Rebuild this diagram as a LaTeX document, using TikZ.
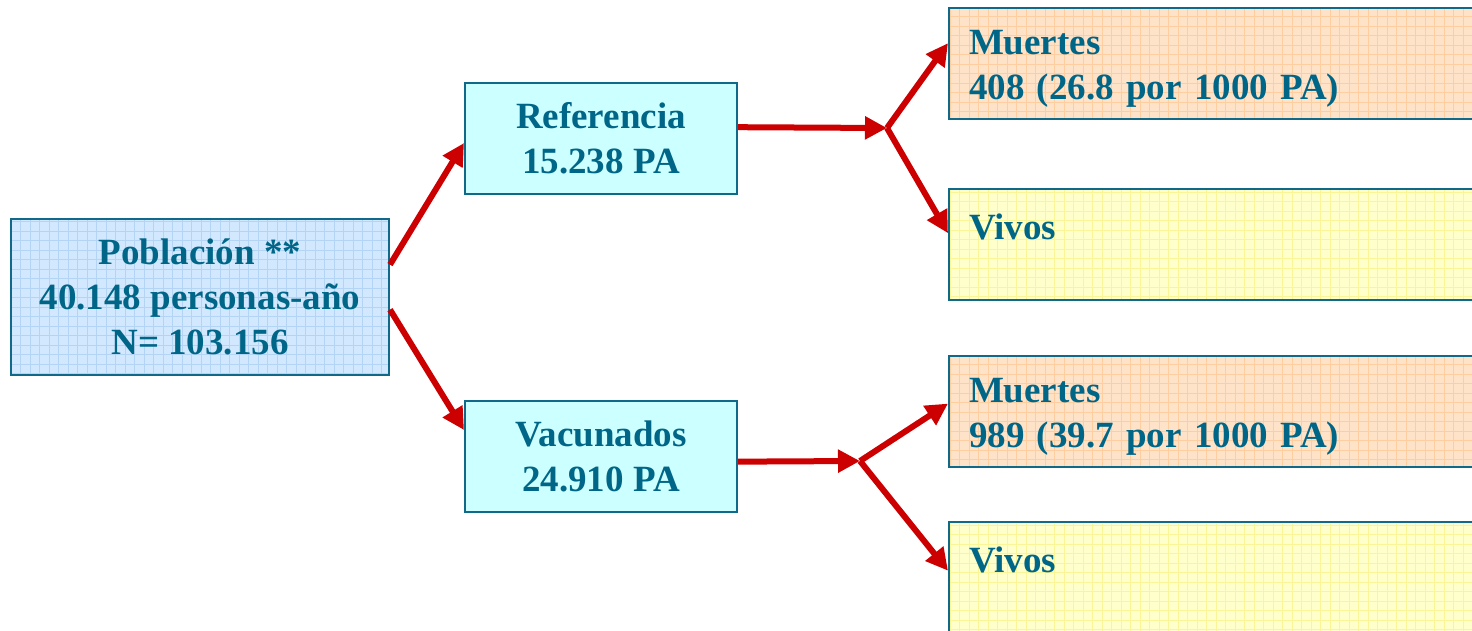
\documentclass[tikz,border=0pt]{standalone}
\usepackage{fontspec}
\setmainfont{Liberation Serif}
\usepackage{tikz}
\usetikzlibrary{calc,arrows.meta}
\definecolor{boxline}{RGB}{17,105,138}
\definecolor{boxtext}{RGB}{0,102,136}
\definecolor{popblue}{RGB}{210,232,255}
\definecolor{popgrid}{RGB}{180,212,245}
\definecolor{grpcyan}{RGB}{204,255,255}
\definecolor{deadpeach}{RGB}{255,227,200}
\definecolor{deadgrid}{RGB}{255,206,160}
\definecolor{aliveyellow}{RGB}{255,255,204}
\definecolor{alivegrid}{RGB}{250,245,150}
\definecolor{flowred}{RGB}{204,0,0}
\tikzset{
    gridfill/.style={
        path picture={
            \draw[#1, line width=0.3pt, step=4.75pt]
              (path picture bounding box.south west) grid (path picture bounding box.north east);
        }
    },
    basebox/.style={
        draw=boxline,
        line width=1pt,
        text=boxtext,
        font=\fontsize{18.5}{22.5}\selectfont\bfseries,
    },
    popbox/.style={
        basebox,
        fill=popblue,
        gridfill=popgrid,
        align=center,
        minimum width=189pt,
        minimum height=78pt,
    },
    groupbox/.style={
        basebox,
        fill=grpcyan,
        align=center,
        minimum width=136pt,
        minimum height=55.5pt,
    },
    outbox/.style={
        basebox,
        anchor=north west,
        align=left,
        inner xsep=10pt,
        text width=280pt,
        text height=17.5pt,
        minimum height=55.5pt,
    },
    deadbox/.style={outbox, fill=deadpeach, gridfill=deadgrid},
    alivebox/.style={outbox, fill=aliveyellow, gridfill=alivegrid},
    flow/.style={
        draw=flowred,
        line width=3pt,
        -{Triangle[length=11pt,width=11pt]},
    },
}
\begin{document}
\begin{tikzpicture}[x=0.5pt,y=-0.5pt]
    \useasboundingbox (0,0) rectangle (1472,631);
    \clip (0,0) rectangle (1472,631);

    % Population and the two groups
    \node[popbox] (pob) at (200,297) {Población **\\40.148 personas-año\\N= 103.156};
    \node[groupbox] (ref) at (601,138.5) {Referencia\\15.238 PA};
    \node[groupbox] (vac) at (601,456) {Vacunados\\24.910 PA};

    % Outcomes
    \node[deadbox] (deadref) at (948,7) {Muertes\\408 (26.8 por 1000 PA)};
    \node[alivebox] (aliveref) at (948,188) {Vivos\\\phantom{0}};
    \node[deadbox] (deadvac) at (948,355) {Muertes\\989 (39.7 por 1000 PA)};
    \node[alivebox] (alivevac) at (948,521) {Vivos\\\phantom{0}};

    % Forks
    \coordinate (forkref) at (887,128);
    \coordinate (forkvac) at (860,461);

    % Population to groups
    \draw[flow] ($(pob.north east)!0.295!(pob.south east)$) -- ($(ref.north west)!0.54!(ref.south west)$);
    \draw[flow] ($(pob.north east)!0.58!(pob.south east)$) -- ($(vac.north west)!0.27!(vac.south west)$);

    % Referencia branch
    \draw[flow] ($(ref.north east)!0.4!(ref.south east)$) -- (forkref);
    \draw[flow] (forkref) -- ($(deadref.north west)!0.32!(deadref.south west)$);
    \draw[flow] (forkref) -- ($(aliveref.north west)!0.4!(aliveref.south west)$);

    % Vacunados branch
    \draw[flow] ($(vac.north east)!0.55!(vac.south east)$) -- (forkvac);
    \draw[flow] (forkvac) -- ($(deadvac.north west)!0.43!(deadvac.south west)$);
    \draw[flow] (forkvac) -- ($(alivevac.north west)!0.44!(alivevac.south west)$);
\end{tikzpicture}
\end{document}
